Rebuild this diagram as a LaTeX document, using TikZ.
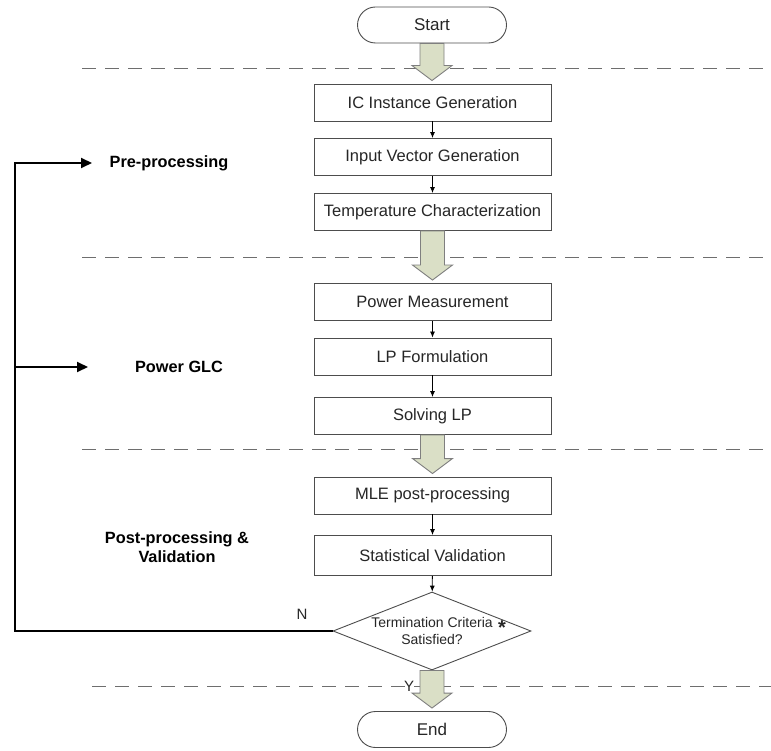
\documentclass[tikz,border=0pt]{standalone}
\usepackage{fontspec}
\setmainfont{Liberation Sans}
\usetikzlibrary{shapes.geometric,arrows.meta,calc}
\definecolor{fatfill}{HTML}{DADFC6}
\definecolor{fatline}{HTML}{7F7F7F}
\definecolor{boxline}{HTML}{4D4D4D}
\definecolor{dashcol}{HTML}{6E6E6E}
\tikzset{
  procbox/.style={draw=boxline, line width=0.9pt, minimum width=237pt, minimum height=37pt, inner sep=0pt, font=\fontsize{16.5}{18}\selectfont, text=black!85},
  termbox/.style={draw=boxline, line width=0.9pt, rounded corners=18pt, minimum width=149pt, minimum height=36pt, inner sep=0pt, font=\fontsize{17}{19}\selectfont, text=black!85},
  decbox/.style={draw=boxline, line width=0.9pt, diamond, aspect=2.54, minimum width=198pt, minimum height=78pt, inner sep=0pt, font=\fontsize{14}{17}\selectfont, align=center, text=black!85},
  smallarr/.style={-{Latex[length=6pt,width=5pt]}, line width=0.8pt, black},
  fatarr/.style={fill=fatfill, draw=fatline, line width=0.9pt, line join=miter},
  sepline/.style={dashcol, line width=1pt, dash pattern=on 14pt off 9pt},
  fbline/.style={line width=2pt, black},
  fbarr/.style={line width=2pt, black, -{Triangle[length=11pt,width=10pt]}},
  grouplabel/.style={font=\bfseries\fontsize{16.3}{19}\selectfont, align=center, text=black},
  yn/.style={font=\fontsize{15}{17}\selectfont, text=black!85}
}
\newcommand{\fatarrow}[2]{%
  \path let \p1=(#1.south), \p2=(#2.north) in
    [fatarr] (\x1-12pt,\y1) -- (\x1-12pt,\y2+18pt) -- (\x1-20pt,\y2+18pt) -- (\x1,\y2+3pt)
    -- (\x1+20pt,\y2+18pt) -- (\x1+12pt,\y2+18pt) -- (\x1+12pt,\y1) -- cycle;}
\begin{document}
\begin{tikzpicture}[x=1pt,y=-1pt]
\useasboundingbox (0,0) rectangle (771,751);
% separators
\draw[sepline] (82,69) -- (771,69);
\draw[sepline] (82,258) -- (771,258);
\draw[sepline] (82,449) -- (771,449);
\draw[sepline] (92,686) -- (771,686);
% nodes
\node[termbox] (start) at (432,25) {Start};
\node[procbox] (ic) at (432.5,102.5) {IC Instance Generation};
\node[procbox] (iv) at (432.5,157) {Input Vector Generation};
\node[procbox] (tc) at (432.5,212) {Temperature Characterization};
\node[procbox] (pm) at (432.5,302) {Power Measurement};
\node[procbox] (lp) at (432.5,356.5) {LP Formulation};
\node[procbox] (sl) at (432.5,416) {Solving LP};
\node[procbox] (mle) at (432.5,495.5) {MLE post-processing};
\node[procbox, minimum height=40pt] (sv) at (432.5,555.5) {Statistical Validation};
\node[decbox] (dec) at (432,631) {Termination Criteria\\Satisfied?};
\node[font=\bfseries\fontsize{20}{20}\selectfont, text=black!85] (ast) at (502,628) {*};
\node[termbox] (end) at (432,729.5) {End};
% labels
\node[grouplabel] (lpre) at (169,163) {Pre-processing};
\node[grouplabel] (lglc) at (179,367) {Power GLC};
\node[grouplabel] (lpost) at (177,547) {Post-processing \&\\Validation};
\node[yn] (nlab) at (302,614) {N};
\node[yn] (ylab) at (409,686) {Y};
% fat arrows
\fatarrow{start}{ic}
\fatarrow{tc}{pm}
\fatarrow{sl}{mle}
\fatarrow{dec}{end}
% small arrows
\draw[smallarr] (ic) -- (iv);
\draw[smallarr] (iv) -- (tc);
\draw[smallarr] (pm) -- (lp);
\draw[smallarr] (lp) -- (sl);
\draw[smallarr] (mle) -- (sv);
\draw[smallarr] (sv) -- (dec);
% feedback
\coordinate (c1) at (15,631);
\coordinate (c2) at (15,163);
\coordinate (c3) at (15,367);
\coordinate (t1) at (92,163);
\coordinate (t2) at (88,367);
\draw[fbline, line join=miter] (dec.west) -- (c1) -- (c2);
\draw[fbarr] ($(c2)+(-1,0)$) -- (t1);
\draw[fbarr] (c3) -- (t2);
\end{tikzpicture}
\end{document}
